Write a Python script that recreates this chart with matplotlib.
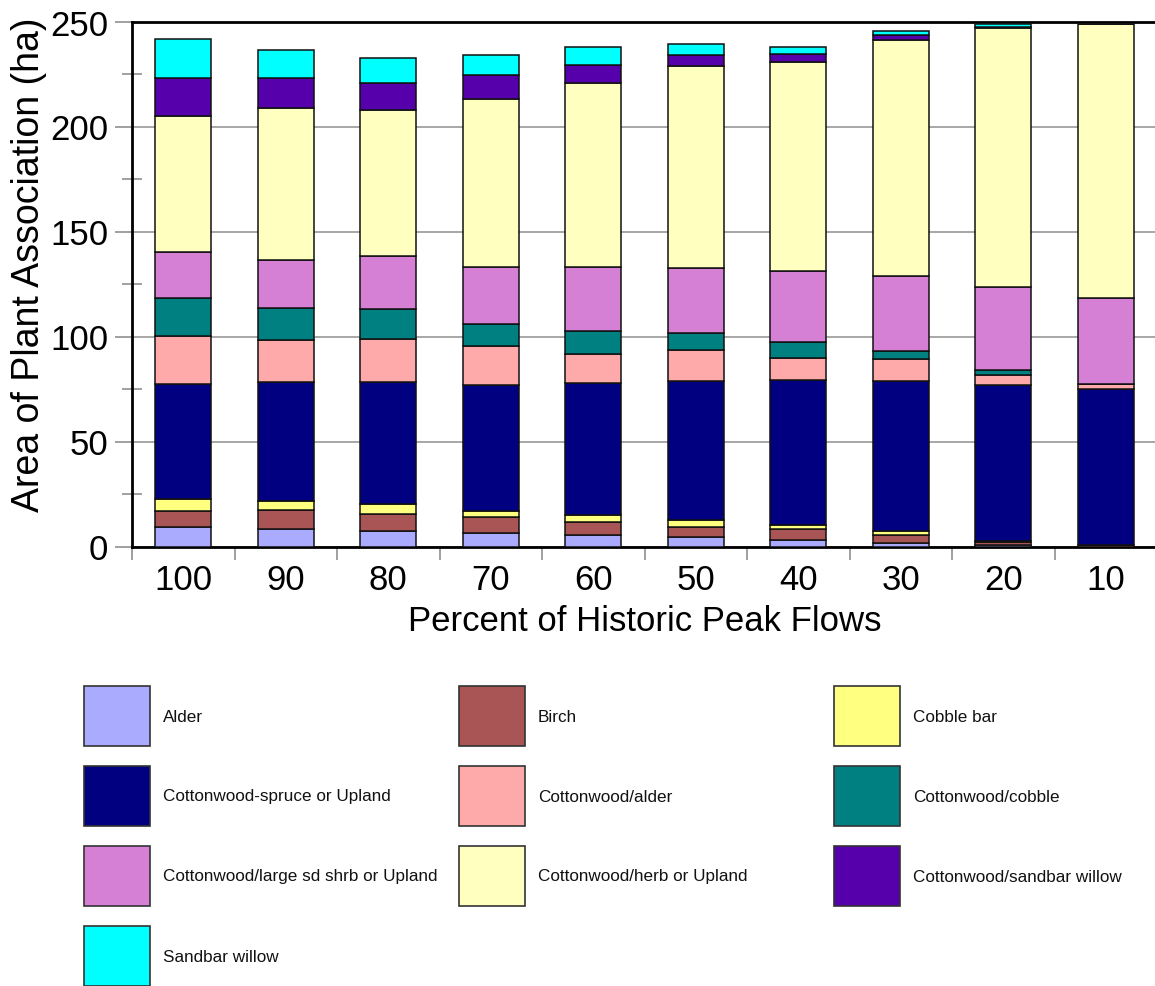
import matplotlib
matplotlib.use("Agg")
import matplotlib.pyplot as plt
import numpy as np
from matplotlib.patches import Rectangle
from matplotlib.ticker import MultipleLocator, FixedLocator

plt.rcParams['font.family'] = ['Liberation Sans', 'DejaVu Sans']

categories = ["100", "90", "80", "70", "60", "50", "40", "30", "20", "10"]

alder = [9.5, 8.2, 7.6, 6.3, 5.6, 4.4, 3.1, 1.8, 0.8, 0.0]
birch = [7.3, 9.1, 7.9, 7.8, 5.9, 5.1, 5.1, 3.8, 1.3, 0.8]
cobble_bar = [5.6, 4.6, 4.6, 3.0, 3.3, 3.3, 2.0, 1.6, 0.5, 0.0]
cw_spruce = [55.2, 56.2, 58.0, 59.7, 63.0, 66.1, 69.2, 71.7, 74.2, 74.4]
cw_alder = [22.6, 20.1, 20.6, 18.8, 14.0, 14.9, 10.4, 10.2, 4.9, 2.4]
cw_cobble = [18.2, 15.6, 14.3, 10.2, 10.8, 7.7, 7.7, 4.0, 2.2, 0.0]
cw_large = [21.7, 22.5, 25.3, 27.4, 30.6, 31.1, 33.6, 35.7, 39.6, 40.7]
cw_herb = [64.7, 72.3, 69.6, 80.0, 87.7, 96.0, 99.5, 112.2, 123.2, 130.5]
cw_sandbar = [18.1, 14.3, 12.7, 11.1, 8.4, 5.3, 3.9, 2.8, 0.8, 0.0]
sandbar = [18.9, 13.6, 12.1, 9.9, 8.5, 5.2, 3.3, 1.6, 1.2, 0.0]

series_names = ["Alder", "Birch", "Cobble bar",
                "Cottonwood-spruce or Upland", "Cottonwood/alder", "Cottonwood/cobble",
                "Cottonwood/large sd shrb or Upland", "Cottonwood/herb or Upland",
                "Cottonwood/sandbar willow", "Sandbar willow"]
series_values = [alder, birch, cobble_bar, cw_spruce, cw_alder, cw_cobble,
                 cw_large, cw_herb, cw_sandbar, sandbar]
series_colors = ["#AAAAFF", "#AA5555", "#FFFF80", "#000080", "#FFAAAA", "#008080",
                 "#D580D5", "#FFFFC0", "#5500AA", "#00FFFF"]

W, H = 1155, 987
fig = plt.figure(figsize=(W / 100, H / 100), dpi=100)

ax = fig.add_axes([132 / W, 1 - 547.5 / H, (1157 - 132) / W, (547.5 - 22.5) / H])
x = np.arange(len(categories))
bottom = np.zeros(len(categories))
for name, vals, col in zip(series_names, series_values, series_colors):
    v = np.array(vals)
    ax.bar(x, v, width=0.545, bottom=bottom, color=col, edgecolor="#111111",
           linewidth=1.1, zorder=3, label=name)
    bottom += v

ax.set_xlim(-0.5, len(categories) - 0.5)
ax.set_ylim(0, 250)
ax.yaxis.set_major_locator(MultipleLocator(50))
ax.yaxis.set_minor_locator(FixedLocator([25, 75, 125, 175, 225]))
ax.set_xticks(x)
ax.set_xticklabels(categories)
ax.xaxis.set_minor_locator(FixedLocator(np.arange(-0.5, len(categories), 1.0)))

ax.grid(axis="y", which="major", color="#A0A0A0", linewidth=1.3, zorder=0)
ax.set_axisbelow(True)

ax.tick_params(axis="y", which="major", direction="out", length=12, width=1.2,
               color="#909090", labelsize=25, pad=5)
ax.tick_params(axis="y", which="minor", direction="inout", length=14, width=1.2,
               color="#909090")
ax.tick_params(axis="x", which="major", length=0, labelsize=25, pad=12)
ax.tick_params(axis="x", which="minor", direction="out", length=9, width=1.2,
               color="#909090")

for s in ["left", "bottom", "top"]:
    ax.spines[s].set_linewidth(2)
    ax.spines[s].set_color("#000000")
ax.spines["right"].set_visible(False)

ax.set_xlabel("Percent of Historic Peak Flows", fontsize=25, labelpad=6)
ax.set_ylabel("Area of Plant Association (ha)", fontsize=27)
ax.yaxis.set_label_coords((47 - 132) / 1025, (547.5 - 265) / 525)

# Legend (manual grid layout)
lax = fig.add_axes([0, 0, 1, 1])
lax.set_xlim(0, W)
lax.set_ylim(H, 0)
lax.axis("off")
box_w, box_h = 66, 60
col_x = [84, 459, 834]
row_y = [687, 767, 847, 927]
for i, (name, col) in enumerate(zip(series_names, series_colors)):
    r, c = divmod(i, 3)
    bx, by = col_x[c], row_y[r]
    lax.add_patch(Rectangle((bx, by), box_w, box_h, facecolor=col,
                            edgecolor="#333333", linewidth=1.2))
    lax.text(bx + box_w + 13, by + box_h / 2, name, fontsize=12.3,
             va="center", ha="left", color="#111111")

fig.savefig("out.png", dpi=100)
